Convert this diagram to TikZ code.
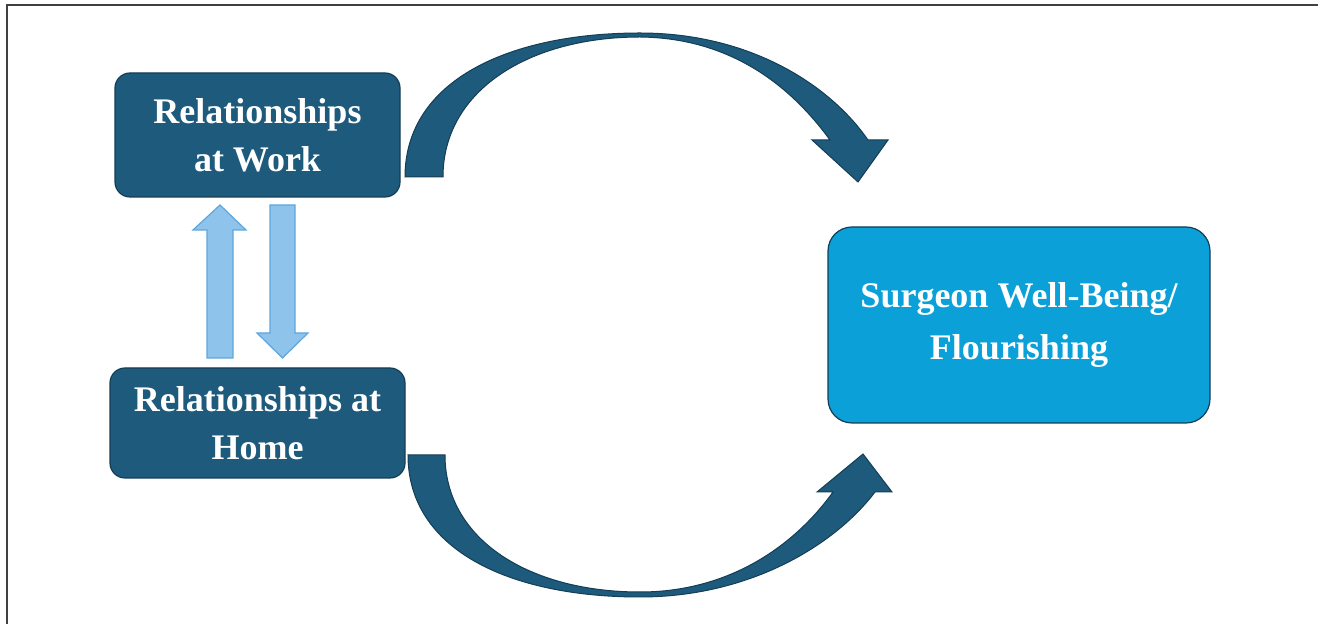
\documentclass[tikz,border=0pt]{standalone}
\usepackage[rgb]{xcolor}
\usepackage{fontspec}
\setmainfont{Liberation Serif}
\usepackage{tikz}

\definecolor{darkbox}{HTML}{1D5A7C}
\definecolor{darkedge}{HTML}{143E55}
\definecolor{lightarrow}{HTML}{8EC4EC}
\definecolor{lightedge}{HTML}{5EA6DC}
\definecolor{wellbox}{HTML}{0BA0D8}

\tikzset{
  relbox/.style={draw=darkedge, fill=darkbox, line width=0.6pt, rounded corners=7.5pt,
    text=white, align=center, font=\fontsize{18}{24}\selectfont\bfseries},
  bigarrow/.style={draw=darkedge, fill=darkbox, line width=0.5pt},
  smallarrow/.style={draw=lightedge, fill=lightarrow, line width=0.6pt}
}

\begin{document}
\begin{tikzpicture}[x=0.5pt, y=-0.5pt]

\useasboundingbox (0,0) rectangle (1318,624);

% Frame
\draw[line width=1pt, black!75] (7,624) -- (7,5) -- (1318,5);


% Relationships at work
\node[relbox, minimum width=142.5pt, minimum height=62pt] (work) at (257.5,135)
  {Relationships\\at Work};

% Relationships at home
\node[relbox, minimum width=147.5pt, minimum height=55pt] (home) at (257.5,423)
  {Relationships at\\Home};

% Surgeon well-being
\node[relbox, fill=wellbox, rounded corners=12pt, minimum width=191pt, minimum height=98pt,
  font=\fontsize{18}{26}\selectfont\bfseries] (well) at (1019,325)
  {Surgeon Well-Being/\\Flourishing};


% Work <-> home arrows
\filldraw[smallarrow] (207,358) -- (207,230) -- (193,230) -- (220,205)
  -- (246,230) -- (233,230) -- (233,358) -- cycle;

\filldraw[smallarrow] (270,205) -- (295,205) -- (295,333) -- (308,333)
  -- (282.5,358) -- (257,333) -- (270,333) -- cycle;


% Upper curved arrow
\filldraw[bigarrow] (405,177) .. controls (405,80) and (510,33) .. (640,33)
  .. controls (750,33) and (830,85) .. (868,140)
  -- (888,140) -- (858,182) -- (812,140) -- (830,140)
  .. controls (790,85) and (730,38) .. (640,37)
  .. controls (530,37) and (443,90) .. (443,177) -- cycle;

% Lower curved arrow
\filldraw[bigarrow] (408,455) .. controls (408,550) and (510,597) .. (640,597)
  .. controls (750,597) and (835,545) .. (875,492)
  -- (892,492) -- (863,454) -- (817,492) -- (833,492)
  .. controls (795,545) and (730,592) .. (640,592)
  .. controls (530,592) and (445,540) .. (445,455) -- cycle;

\end{tikzpicture}
\end{document}
